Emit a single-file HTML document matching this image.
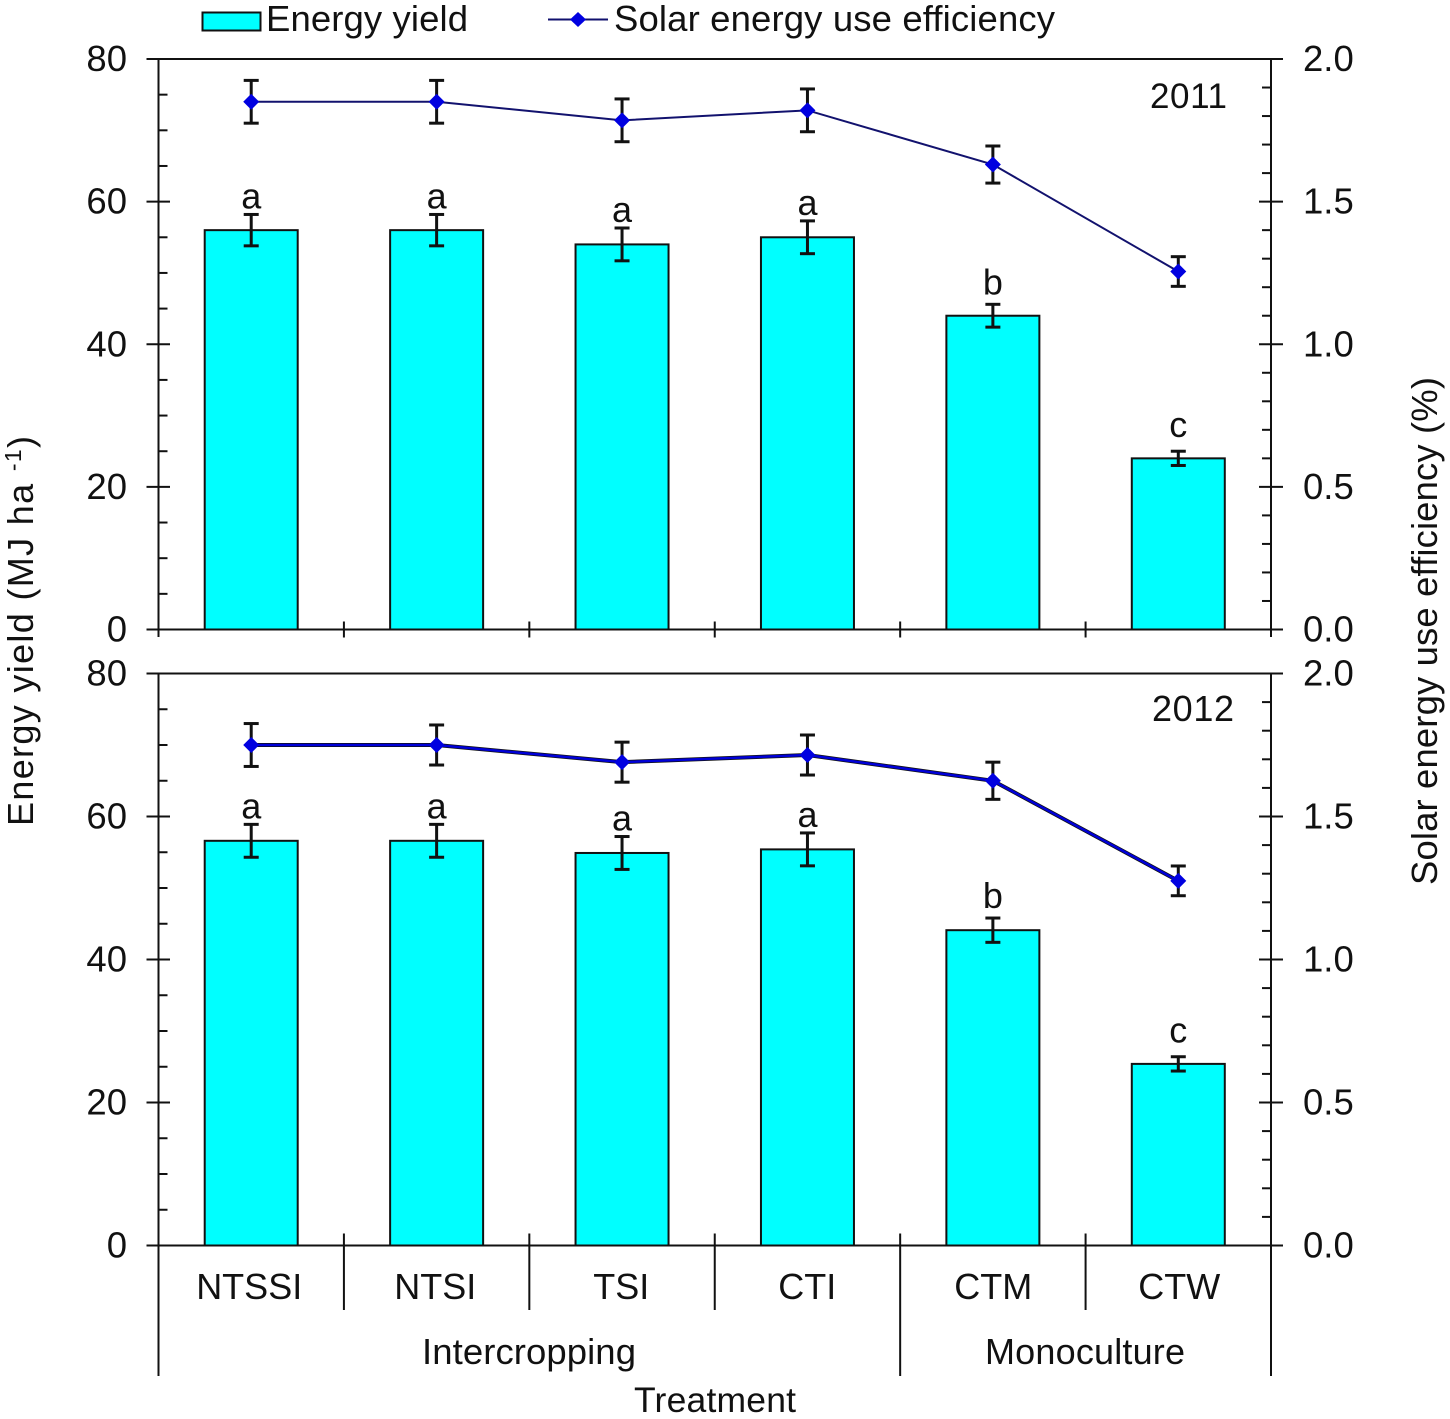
<!DOCTYPE html>
<html>
<head>
<meta charset="utf-8">
<title>Energy yield and solar energy use efficiency</title>
<style>
html,body{margin:0;padding:0;background:#fff;}
svg{display:block;}
text{font-family:"Liberation Sans",sans-serif;fill:#111;}
</style>
</head>
<body>
<svg id="chart" width="1450" height="1419" viewBox="0 0 1450 1419" xmlns="http://www.w3.org/2000/svg">
  <g>
    <rect x="202.5" y="12.5" width="58" height="18" fill="#00ffff" stroke="#111" stroke-width="2"/>
    <text x="266" y="31" font-size="36.5" textLength="202" lengthAdjust="spacing">Energy yield</text>
    <line x1="548" y1="19.5" x2="608" y2="19.5" stroke="#10106e" stroke-width="2"/>
    <polygon points="570,19.5 578,12 586,19.5 578,27" fill="#0000e0"/>
    <text x="614" y="31" font-size="36.5" textLength="441" lengthAdjust="spacing">Solar energy use efficiency</text>
  </g>
  <g id="panels"></g>
  <text x="1150" y="108" font-size="35" textLength="77" lengthAdjust="spacing">2011</text>
  <text x="1152" y="721" font-size="36" textLength="82" lengthAdjust="spacing">2012</text>
  <text transform="translate(33,826) rotate(-90)" font-size="36" textLength="390" lengthAdjust="spacing">Energy yield (MJ ha <tspan font-size="23" dy="-12">-1</tspan><tspan dy="12">)</tspan></text>
  <text transform="translate(1437,885) rotate(-90)" font-size="36.5" textLength="508" lengthAdjust="spacing">Solar energy use efficiency (%)</text>
  <text x="422" y="1364" font-size="36.5" textLength="214" lengthAdjust="spacing">Intercropping</text>
  <text x="985" y="1364" font-size="36" textLength="200" lengthAdjust="spacing">Monoculture</text>
  <text x="634" y="1412" font-size="35.5" textLength="162" lengthAdjust="spacing">Treatment</text>
</svg>
<script>
const categories = ['NTSSI', 'NTSI', 'TSI', 'CTI', 'CTM', 'CTW'];
const letters = ['a', 'a', 'a', 'a', 'b', 'c'];
const energy2011 = [56, 56, 54, 55, 44, 24];
const energyErr2011 = [2.2, 2.2, 2.3, 2.3, 1.6, 1.0];
const seue2011 = [1.85, 1.85, 1.785, 1.82, 1.63, 1.255];
const seueErr2011 = [0.075, 0.075, 0.075, 0.075, 0.065, 0.052];
const energy2012 = [56.6, 56.6, 54.9, 55.4, 44.1, 25.4];
const energyErr2012 = [2.3, 2.3, 2.3, 2.3, 1.7, 1.0];
const seue2012 = [1.75, 1.75, 1.69, 1.715, 1.625, 1.275];
const seueErr2012 = [0.075, 0.07, 0.07, 0.07, 0.065, 0.052];
const leftTicks = [0, 20, 40, 60, 80];
const rightTicks = ['0.0', '0.5', '1.0', '1.5', '2.0'];
const leftMax = 80;
const rightMax = 2;
const leftMinorStep = 5;
const rightMinorStep = 0.1;

const NS = 'http://www.w3.org/2000/svg';
const root = document.getElementById('panels');
const plotLeft = 158.5;
const plotRight = 1271;
const band = (plotRight - plotLeft) / categories.length;
const barWidth = 93;
const letterGap = {a: 6, b: 10, c: 14};
const xCenter = i => plotLeft + band * (i + 0.5);
const xEdge = i => plotLeft + band * i;

function make(tag, attrs, parent, text) {
  const el = document.createElementNS(NS, tag);
  for (const k in attrs) el.setAttribute(k, attrs[k]);
  if (text !== undefined) el.textContent = text;
  parent.appendChild(el);
  return el;
}
function axisLine(parent, x1, y1, x2, y2, name, width) {
  const el = make('line', {x1, y1, x2, y2, stroke: '#111', 'stroke-width': width || 2}, parent);
  
  
  return el;
}

function drawPanel(cfg) {
  const g = make('g', {}, root);
  
  
  const yL = v => cfg.bottom - v / leftMax * (cfg.bottom - cfg.top);
  const yR = v => cfg.bottom - v / rightMax * (cfg.bottom - cfg.top);

  // bars
  cfg.energy.forEach((v, i) => {
    const bar = make('rect', {
      x: xCenter(i) - barWidth / 2, y: yL(v), width: barWidth, height: yL(0) - yL(v),
      fill: '#00ffff', stroke: '#111', 'stroke-width': 2
    }, g);
    
    
  });

  // axes frame
  axisLine(g, 146.5, cfg.top, 1283, cfg.top, 'top-axis-line');
  axisLine(g, 146.5, cfg.bottom, 1283, cfg.bottom, 'x-axis-line');
  axisLine(g, plotLeft, cfg.top, plotLeft, cfg.axisEnd, 'left-axis-line');
  axisLine(g, plotRight, cfg.top, plotRight, cfg.axisEnd, 'right-axis-line');

  // left ticks
  for (let v = 0; v < leftMax; v += leftMinorStep) {
    if (v % 20 !== 0) axisLine(g, plotLeft, yL(v), plotLeft + 9, yL(v), 'left-minor-tick');
  }
  leftTicks.forEach(v => {
    axisLine(g, 146.5, yL(v), 170, yL(v), 'left-major-tick');
    const t = make('text', {x: 127, y: yL(v) + 12, 'font-size': 36.5, 'text-anchor': 'end'}, g, String(v));
    
    
  });

  // right ticks
  for (let k = 1; k < Math.round(rightMax / rightMinorStep); k++) {
    if (k % 5 !== 0) {
      const v = k * rightMinorStep;
      axisLine(g, plotRight - 9, yR(v), plotRight, yR(v), 'right-minor-tick');
    }
  }
  rightTicks.forEach(label => {
    const v = parseFloat(label);
    axisLine(g, 1259, yR(v), 1283, yR(v), 'right-major-tick');
    const t = make('text', {x: 1303, y: yR(v) + 12, 'font-size': 36.5}, g, label);
    
    
  });

  // category separators
  for (let i = 1; i < categories.length; i++) {
    let y1 = cfg.bottom - 8, y2 = cfg.bottom + 8;
    if (cfg.showLabels) {
      y1 = cfg.bottom - 12;
      y2 = i === 4 ? 1376 : 1310;
    }
    axisLine(g, xEdge(i), y1, xEdge(i), y2, 'category-separator');
  }

  // bar error bars and letters
  cfg.energy.forEach((v, i) => {
    const x = xCenter(i), e = cfg.energyErr[i];
    axisLine(g, x, yL(v + e), x, yL(v - e), 'energy-error-bar', 3);
    axisLine(g, x - 7.5, yL(v + e), x + 7.5, yL(v + e), 'energy-error-cap', 3);
    axisLine(g, x - 7.5, yL(v - e), x + 7.5, yL(v - e), 'energy-error-cap', 3);
    const t = make('text', {x: x, y: yL(v + e) - letterGap[letters[i]], 'font-size': 36, 'text-anchor': 'middle'}, g, letters[i]);
    
    
  });

  // efficiency error bars
  cfg.seue.forEach((v, i) => {
    const x = xCenter(i), e = cfg.seueErr[i];
    axisLine(g, x, yR(v + e), x, yR(v - e), 'efficiency-error-bar', 3);
    axisLine(g, x - 7.5, yR(v + e), x + 7.5, yR(v + e), 'efficiency-error-cap', 3);
    axisLine(g, x - 7.5, yR(v - e), x + 7.5, yR(v - e), 'efficiency-error-cap', 3);
  });

  // efficiency line
  const pts = cfg.seue.map((v, i) => xCenter(i) + ',' + yR(v)).join(' ');
  if (cfg.thick) {
    const under = make('polyline', {points: pts, fill: 'none', stroke: '#111', 'stroke-width': 4}, g);
    
    
  }
  const line = make('polyline', {
    points: pts, fill: 'none',
    stroke: cfg.thick ? '#0000d8' : '#12126e',
    'stroke-width': cfg.thick ? 2.5 : 2
  }, g);
  
  

  // markers
  cfg.seue.forEach((v, i) => {
    const x = xCenter(i), y = yR(v);
    const pt = make('polygon', {
      points: (x - 8) + ',' + y + ' ' + x + ',' + (y - 8) + ' ' + (x + 8) + ',' + y + ' ' + x + ',' + (y + 8),
      fill: '#0000e0'
    }, g);
    
    
  });

  // category labels
  if (cfg.showLabels) {
    categories.forEach((c, i) => {
      const t = make('text', {x: xCenter(i) - 2 + i * 0.6, y: 1299, 'font-size': 36, 'text-anchor': 'middle'}, g, c);
      
      
    });
  }
}

drawPanel({year: 2011, top: 59, bottom: 629.5, axisEnd: 637, energy: energy2011, energyErr: energyErr2011, seue: seue2011, seueErr: seueErr2011, thick: false, showLabels: false});
drawPanel({year: 2012, top: 673.5, bottom: 1245.5, axisEnd: 1376, energy: energy2012, energyErr: energyErr2012, seue: seue2012, seueErr: seueErr2012, thick: true, showLabels: true});
</script>
</body>
</html>
